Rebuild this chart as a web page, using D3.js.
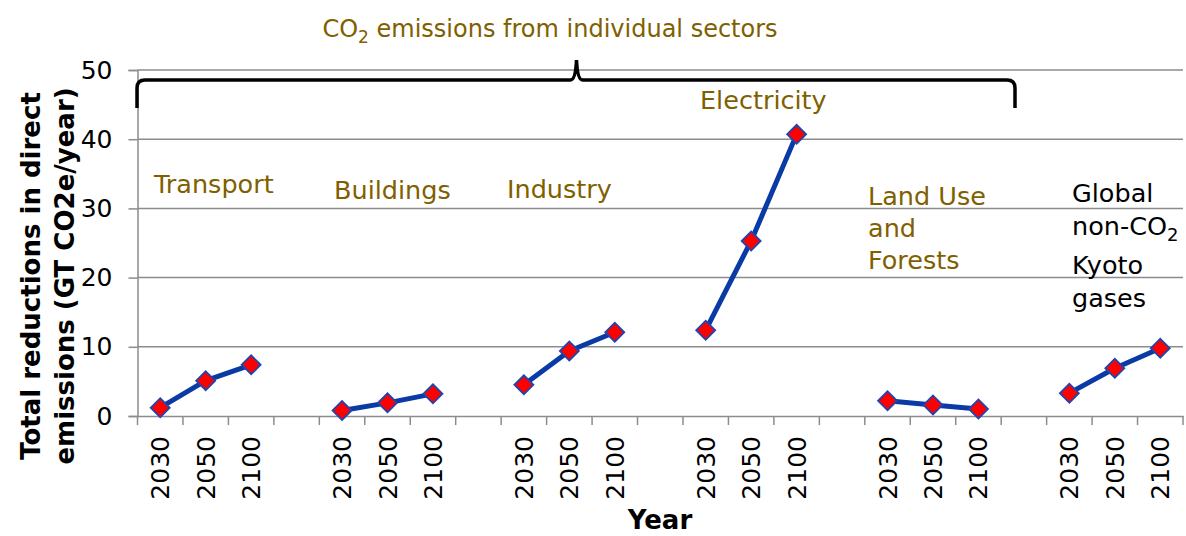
<!DOCTYPE html>
<html>
<head>
<meta charset="utf-8">
<script src="https://cdn.jsdelivr.net/npm/d3@7"></script>
<style>
  html, body { margin: 0; padding: 0; background: #fff; }
  svg { display: block; font-family: "DejaVu Sans", Verdana, sans-serif; }
</style>
</head>
<body>
<svg id="chart" width="1186" height="536"></svg>
<script>
// Emission reductions by sector (GT CO2e/year)
const sectors = ["Transport", "Buildings", "Industry", "Electricity", "Land Use and Forests", "Global non-CO2 Kyoto gases"];
const years = ["2030", "2050", "2100"];
const transport   = [1.2, 5.1, 7.4];
const buildings   = [0.8, 1.9, 3.2];
const industry    = [4.5, 9.4, 12.1];
const electricity = [12.4, 25.3, 40.7];
const landUse     = [2.2, 1.6, 1.0];
const nonCO2      = [3.3, 6.9, 9.8];
const seriesValues = [transport, buildings, industry, electricity, landUse, nonCO2];
const yTicks = [0, 10, 20, 30, 40, 50];

// Category slots: three years per sector, an empty slot between sectors
const categories = [];
sectors.forEach((s, i) => {
  years.forEach(y => categories.push(s + "|" + y));
  if (i < sectors.length - 1) categories.push("gap" + i);
});

const svg = d3.select("#chart");
const plotLeft = 137.5, plotRight = 1183, plotTop = 70, plotBottom = 416;
const brown = "#7f6000";

const x = d3.scaleBand().domain(categories).range([plotLeft, plotRight]).padding(0);
const y = d3.scaleLinear().domain([0, 50]).range([plotBottom, plotTop]);

// Horizontal gridlines
svg.append("g").selectAll("line").data(yTicks.filter(t => t > 0)).join("line")
  .attr("x1", plotLeft).attr("x2", plotRight)
  .attr("y1", d => y(d)).attr("y2", d => y(d))
  .attr("stroke", "#8c8c8c").attr("stroke-width", 1.5);

// Y axis
const yAxis = svg.append("g").attr("transform", `translate(${plotLeft},0)`)
  .call(d3.axisLeft(y).tickValues(yTicks).tickSize(9).tickPadding(16));
yAxis.select(".domain").attr("stroke", "#8c8c8c").attr("stroke-width", 1.5);
yAxis.selectAll(".tick line").attr("stroke", "#8c8c8c").attr("stroke-width", 1.5);
yAxis.selectAll(".tick text").attr("font-size", 25).attr("fill", "#000")
  .attr("font-family", "DejaVu Sans, sans-serif");

// X axis: labels at slot centres, tick marks at slot boundaries
const xAxis = svg.append("g").attr("transform", `translate(0,${plotBottom})`)
  .call(d3.axisBottom(x).tickSize(0).tickFormat(d => d.startsWith("gap") ? "" : d.split("|")[1]));
xAxis.select(".domain").attr("stroke", "#8c8c8c").attr("stroke-width", 1.5);
xAxis.selectAll(".tick text")
  .attr("font-size", 25).attr("fill", "#000")
  .attr("font-family", "DejaVu Sans, sans-serif")
  .attr("transform", "rotate(-90)")
  .attr("text-anchor", "end")
  .attr("dy", "0.36em").attr("x", -20).attr("y", 0);
const edges = categories.map(c => x(c)).concat([plotRight]);
svg.append("g").selectAll("line").data(edges).join("line")
  .attr("x1", d => d).attr("x2", d => d)
  .attr("y1", plotBottom).attr("y2", plotBottom + 9)
  .attr("stroke", "#8c8c8c").attr("stroke-width", 1.5);

// Sector lines with diamond markers
const line = d3.line().x(d => d.cx).y(d => d.cy);
sectors.forEach((s, i) => {
  const pts = years.map((yr, j) => ({
    cx: x(s + "|" + yr) + x.bandwidth() / 2,
    cy: y(seriesValues[i][j])
  }));
  svg.append("path").datum(pts).attr("d", line)
    .attr("fill", "none").attr("stroke", "#0a3aa6").attr("stroke-width", 5)
    .attr("stroke-linejoin", "round");
  svg.append("g").selectAll("path").data(pts).join("path")
    .attr("d", d3.symbol().type(d3.symbolSquare).size(180))
    .attr("transform", d => `translate(${d.cx},${d.cy}) rotate(45)`)
    .attr("fill", "#ff0000").attr("stroke", "#1f45b0").attr("stroke-width", 1.8);
});

// Brace grouping the CO2 sectors
const bx0 = plotLeft - 0.5, bx1 = 1015, bPeak = 576.5, bTop = 80, bBot = 108;
const brace = d3.path();
brace.moveTo(bx0, bBot);
brace.lineTo(bx0, bTop + 8);
brace.quadraticCurveTo(bx0, bTop, bx0 + 8, bTop);
brace.lineTo(bPeak - 6, bTop);
brace.quadraticCurveTo(bPeak - 1, bTop, bPeak, bTop - 20);
brace.quadraticCurveTo(bPeak + 1, bTop, bPeak + 6, bTop);
brace.lineTo(bx1 - 8, bTop);
brace.quadraticCurveTo(bx1, bTop, bx1, bTop + 8);
brace.lineTo(bx1, bBot);
svg.append("path").attr("d", brace.toString())
  .attr("fill", "none").attr("stroke", "#000").attr("stroke-width", 3.5);

// Group heading
const title = svg.append("text").attr("x", 550).attr("y", 37)
  .attr("text-anchor", "middle").attr("font-size", 24).attr("fill", brown);
title.append("tspan").text("CO");
title.append("tspan").text("2").attr("font-size", 17).attr("dy", 6);
title.append("tspan").text(" emissions from individual sectors").attr("dy", -6);

// Sector labels
function multiLine(xp, yp, lines, color, lh) {
  const t = svg.append("text").attr("x", xp).attr("y", yp)
    .attr("font-size", 25.5).attr("fill", color);
  lines.forEach((ln, k) => {
    const ts = t.append("tspan").attr("x", xp).attr("dy", k === 0 ? 0 : lh);
    if (Array.isArray(ln)) {
      ts.text(ln[0]);
      t.append("tspan").text(ln[1]).attr("font-size", 18).attr("dy", 6);
      t.append("tspan").text("").attr("dy", -6);
    } else ts.text(ln);
  });
}
multiLine(154, 193, ["Transport"], brown, 0);
multiLine(334, 199, ["Buildings"], brown, 0);
multiLine(507, 198, ["Industry"], brown, 0);
multiLine(700, 109, ["Electricity"], brown, 0);
multiLine(868, 205, ["Land Use", "and", "Forests"], brown, 32);
multiLine(1072, 202, ["Global", ["non-CO", "2"], "Kyoto", "gases"], "#000", 33);

// Axis titles
svg.append("text")
  .attr("transform", `translate(40,276) rotate(-90)`)
  .attr("text-anchor", "middle").attr("font-size", 26).attr("font-weight", "bold")
  .text("Total reductions in direct");
svg.append("text")
  .attr("transform", `translate(74,276) rotate(-90)`)
  .attr("text-anchor", "middle").attr("font-size", 26).attr("font-weight", "bold")
  .text("emissions (GT CO2e/year)");
svg.append("text").attr("x", 660).attr("y", 529)
  .attr("text-anchor", "middle").attr("font-size", 26).attr("font-weight", "bold")
  .text("Year");
</script>
</body>
</html>
